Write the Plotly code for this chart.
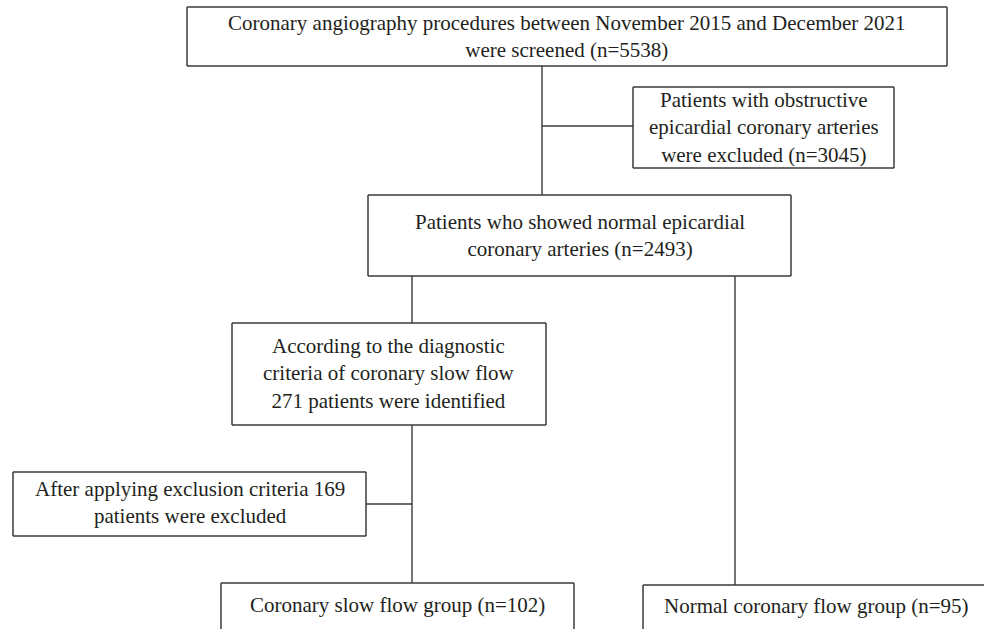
import plotly.graph_objects as go

# Flowchart content
box_texts = [
    "Coronary angiography procedures between November 2015 and December 2021<br>were screened (n=5538)",
    "Patients with obstructive<br>epicardial coronary arteries<br>were excluded (n=3045)",
    "Patients who showed normal epicardial<br>coronary arteries (n=2493)",
    "According to the diagnostic<br>criteria of coronary slow flow<br>271 patients were identified",
    "After applying exclusion criteria 169<br>patients were excluded",
    "Coronary slow flow group (n=102)",
    "Normal coronary flow group (n=95)",
]

# Layout geometry (page pixel coordinates: x0, x1, y0, y1)
boxes = [
    (187, 947, 7, 66),
    (633, 894, 87, 168),
    (368, 791, 195, 276),
    (232, 546, 323, 425),
    (13, 366, 472, 536),
    (221, 574, 583, 640),
    (643, 995, 585, 640),
]
text_y = [36, 127, 235, 373, 502, 605, 606]
text_x = [567, 763.5, 579.5, 389, 189.5, 397.5, 816]

connectors = [
    (542, 542, 66, 195),
    (542, 633, 126, 126),
    (412, 412, 276, 323),
    (412, 412, 425, 583),
    (366, 412, 504, 504),
    (735, 735, 276, 585),
]

W, H = 984, 629
line_color = "#3a3a3a"
font = dict(family="Liberation Serif, Times New Roman, serif", size=21, color="#231f20")

fig = go.Figure()
fig.add_trace(go.Scatter(x=[0, W], y=[0, H], mode="markers", marker=dict(opacity=0), hoverinfo="skip", showlegend=False))

for (x0, x1, y0, y1) in boxes:
    # draw as an open path: sides falling outside the page are omitted
    pts = [(x0, y1), (x0, y0), (x1, y0), (x1, y1), (x0, y1)]
    segs = []
    for (a, b) in zip(pts[:-1], pts[1:]):
        inside = all(0 <= p[0] <= W and 0 <= p[1] <= H for p in (a, b))
        if a[0] == b[0] and a[0] > W:
            continue
        if a[1] == b[1] and a[1] > H:
            continue
        fig.add_shape(type="line", x0=min(a[0], W), x1=min(b[0], W), y0=min(a[1], H), y1=min(b[1], H),
                      xref="x", yref="y", line=dict(color=line_color, width=1.5))

for (x0, x1, y0, y1) in connectors:
    fig.add_shape(type="line", x0=x0, x1=x1, y0=y0, y1=y1, xref="x", yref="y",
                  line=dict(color=line_color, width=1.4))

for txt, tx, ty in zip(box_texts, text_x, text_y):
    fig.add_annotation(x=tx, y=ty, text=txt, showarrow=False, xref="x", yref="y",
                       xanchor="center", yanchor="middle", align="center", font=font)

fig.update_xaxes(range=[0, W], visible=False, fixedrange=True)
fig.update_yaxes(range=[H, 0], visible=False, fixedrange=True)
fig.update_layout(width=W, height=H, margin=dict(l=0, r=0, t=0, b=0),
                  plot_bgcolor="white", paper_bgcolor="white", hovermode=False)

fig.write_html("out.html", config={"displayModeBar": False},
               post_script="document.body.style.margin='0';document.body.style.overflow='hidden';")
